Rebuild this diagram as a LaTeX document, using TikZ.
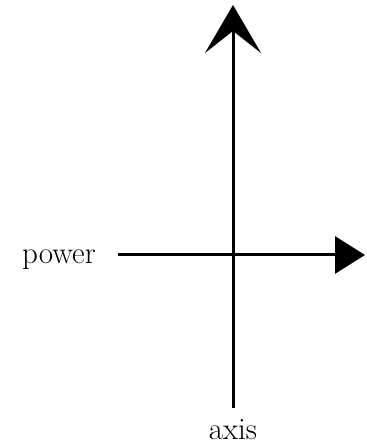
\documentclass[tikz,border=0pt]{standalone}
\usetikzlibrary{arrows.meta}
\begin{document}
\begin{tikzpicture}[x=1pt,y=1pt,
  axisline/.style={line width=3pt},
  lbl/.style={font=\fontsize{31}{36}\selectfont, inner sep=0pt, anchor=base}]
\useasboundingbox (0,0) rectangle (366,446);
\coordinate (vb) at (233,38);
\coordinate (vt) at (233,441);
\coordinate (hl) at (118,191);
\coordinate (hr) at (365,191);
\draw[axisline, -{Stealth[length=48pt,width=56pt,inset=22pt]}] (vb) -- (vt);
\draw[axisline, -{Triangle[length=30pt,width=37pt]}] (hl) -- (hr);
\node[lbl] (power) at (59,182) {power};
\node[lbl] (axis) at (233,6) {axis};
\end{tikzpicture}
\end{document}
